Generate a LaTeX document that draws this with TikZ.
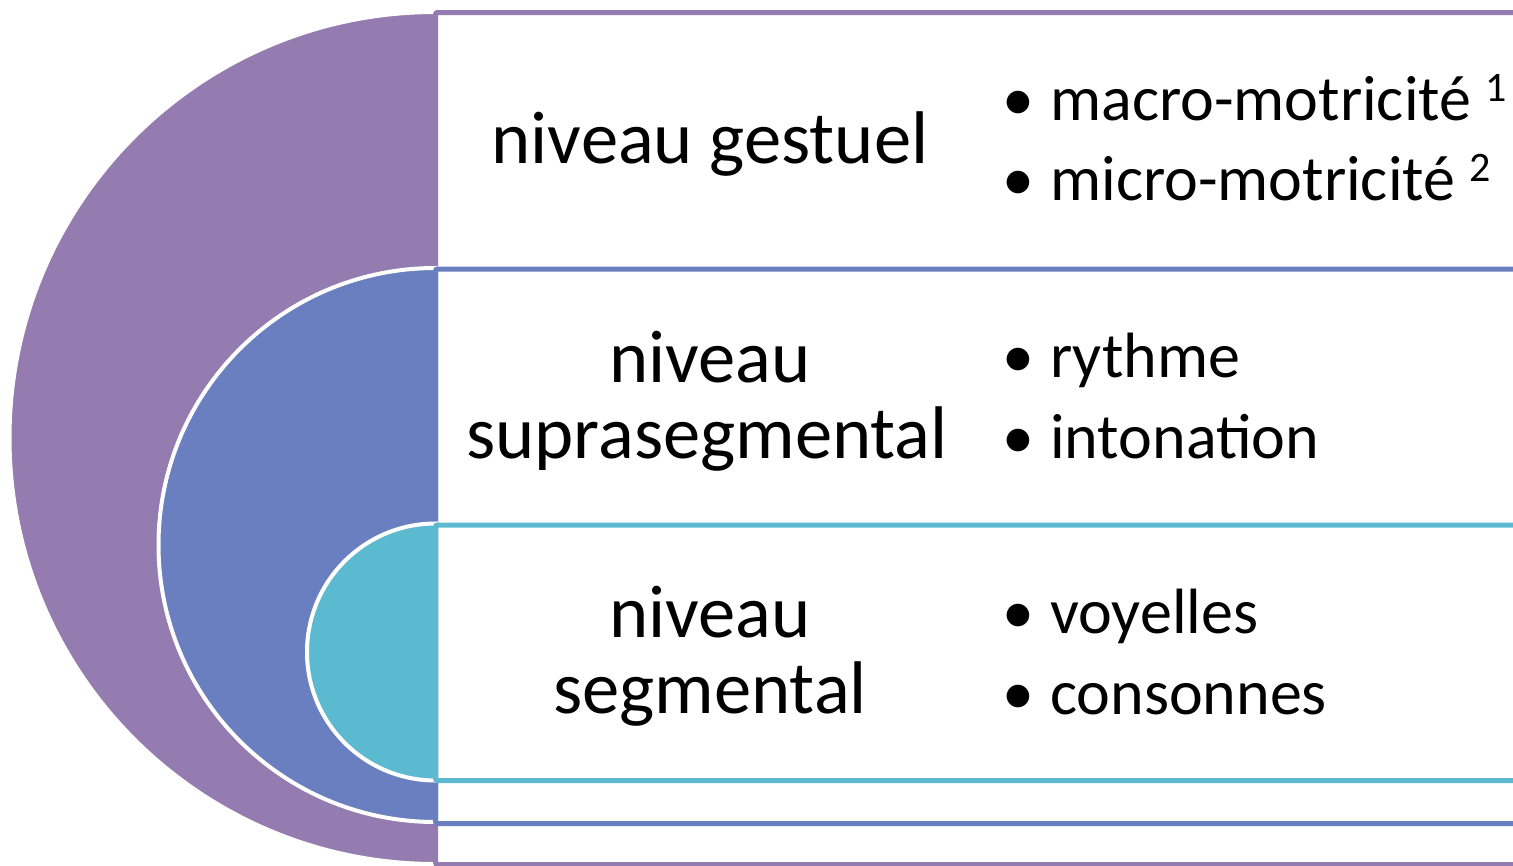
\documentclass[tikz,border=0pt]{standalone}
\usepackage{fontspec}
\setmainfont{Carlito}
\definecolor{lvlA}{RGB}{148,123,176}
\definecolor{lvlB}{RGB}{106,127,192}
\definecolor{lvlC}{RGB}{92,186,208}
\newcommand\supnum[1]{\raisebox{19pt}{\fontsize{42}{42}\selectfont #1}}
\begin{document}
\begin{tikzpicture}[x=1pt,y=-1pt,
  disc/.style={draw=white,line width=4pt},
  frame/.style={line width=5pt,rounded corners=2pt},
  lbl/.style={anchor=base,inner sep=0pt,font=\fontsize{74.6}{77}\selectfont},
  bul/.style={anchor=base,inner sep=0pt,font=\fontsize{64}{70}\selectfont},
  item/.style={anchor=base west,inner sep=0pt,font=\fontsize{64}{70}\selectfont}]
\useasboundingbox (0,0) rectangle (1513,865);
\clip (0,0) rectangle (1513,865);
\fill[white] (0,0) rectangle (1513,865);
% level 1
\filldraw[disc,fill=lvlA] (435.5,864) arc[start angle=90,end angle=270,radius=426] -- cycle;
\draw[frame,draw=lvlA] (435.5,12.5) rectangle (1700,864.5);
% level 2
\filldraw[disc,fill=lvlB] (435.5,822) arc[start angle=90,end angle=270,radius=277] -- cycle;
\draw[frame,draw=lvlB] (435.5,269) rectangle (1700,823.5);
% level 3
\filldraw[disc,fill=lvlC] (435.5,780.5) arc[start angle=90,end angle=270,radius=128.5] -- cycle;
\draw[frame,draw=lvlC] (435.5,525) rectangle (1700,780.5);
% labels
\node[lbl] (g) at (710,163) {niveau gestuel};
\node[lbl] (s1) at (710,382) {niveau};
\node[lbl] (s2) at (707,458) {suprasegmental};
\node[lbl] (e1) at (710,637) {niveau};
\node[lbl] (e2) at (710,713) {segmental};
% bullets
\node[bul] (b1) at (1018,120) {•};
\node[item] (t1) at (1050,120) {macro-motricité \supnum{1}};
\node[bul] (b2) at (1018,200) {•};
\node[item] (t2) at (1050,200) {micro-motricité \supnum{2}};
\node[bul] (b3) at (1018,377) {•};
\node[item] (t3) at (1050,377) {rythme};
\node[bul] (b4) at (1018,458) {•};
\node[item] (t4) at (1050,458) {intonation};
\node[bul] (b5) at (1018,633) {•};
\node[item] (t5) at (1050,633) {voyelles};
\node[bul] (b6) at (1018,714) {•};
\node[item] (t6) at (1050,714) {consonnes};
\end{tikzpicture}
\end{document}
